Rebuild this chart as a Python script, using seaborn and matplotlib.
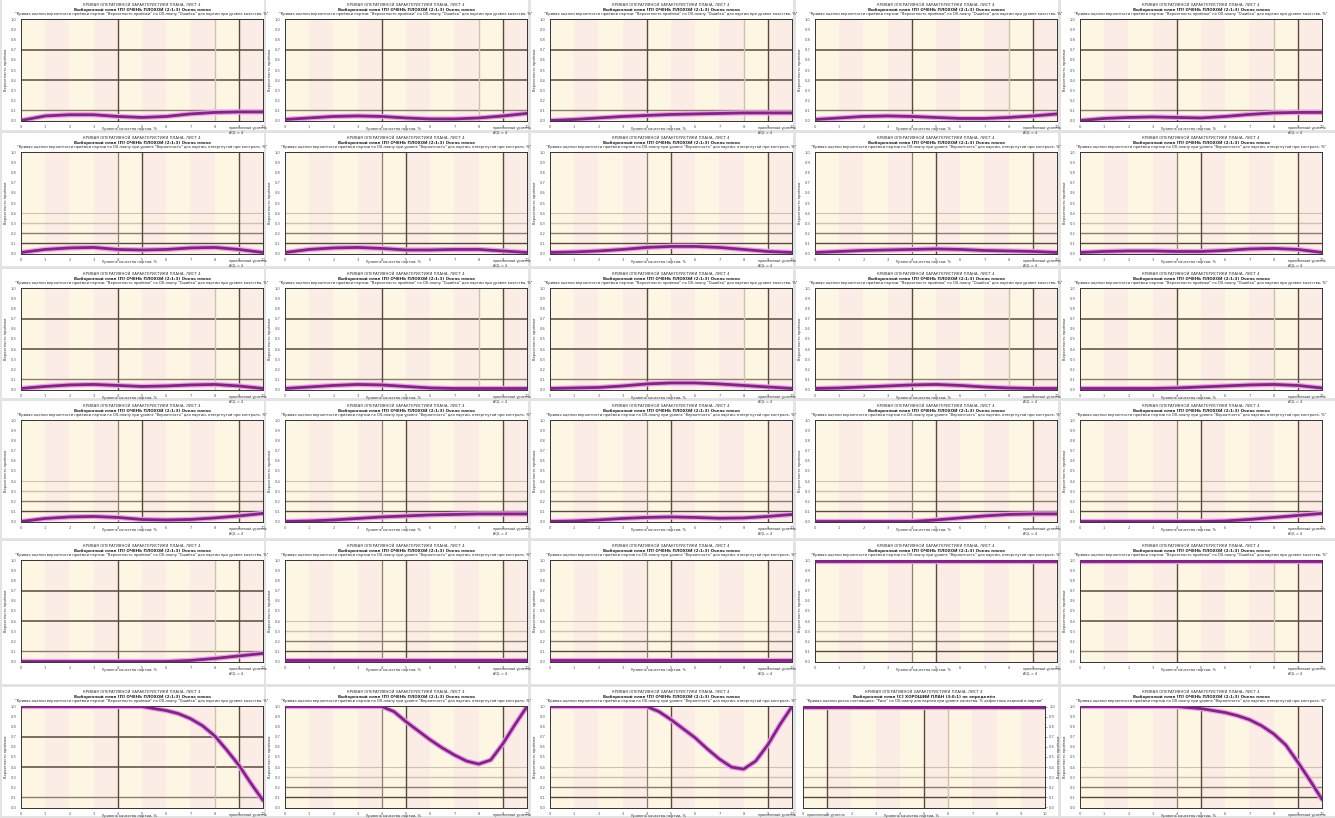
import numpy as np
import pandas as pd
import seaborn as sns
import matplotlib.pyplot as plt
from matplotlib.patches import Rectangle

sns.set_theme(style="white")
plt.rcParams['font.family'] = ['DejaVu Sans']

# x positions (fraction defective scale, 0..10)
x_int = list(range(11))
x_half = [i / 2 for i in range(21)]

# row 1 (type A panels)
r1c1 = [0.0, 0.045, 0.057, 0.057, 0.04, 0.03, 0.04, 0.065, 0.08, 0.085, 0.085]
r1c2 = [0.01, 0.025, 0.04, 0.045, 0.04, 0.025, 0.015, 0.015, 0.025, 0.045, 0.07]
r1c3 = [0.0, 0.01, 0.025, 0.04, 0.05, 0.06, 0.065, 0.07, 0.075, 0.075, 0.075]
r1c4 = [0.01, 0.025, 0.04, 0.045, 0.04, 0.03, 0.02, 0.02, 0.03, 0.045, 0.065]
r1c5 = [0.0, 0.02, 0.03, 0.035, 0.03, 0.025, 0.04, 0.06, 0.075, 0.08, 0.08]
# row 2 (type B)
r2c1 = [0.01, 0.04, 0.055, 0.06, 0.04, 0.035, 0.04, 0.055, 0.06, 0.04, 0.01]
r2c2 = [0.01, 0.04, 0.055, 0.06, 0.05, 0.035, 0.035, 0.04, 0.04, 0.025, 0.01]
r2c3 = [0.01, 0.015, 0.025, 0.04, 0.06, 0.07, 0.07, 0.06, 0.04, 0.02, 0.01]
r2c4 = [0.01, 0.02, 0.03, 0.035, 0.04, 0.045, 0.04, 0.03, 0.025, 0.02, 0.01]
r2c5 = [0.01, 0.02, 0.025, 0.025, 0.02, 0.02, 0.03, 0.045, 0.05, 0.04, 0.01]
# row 3 (type A)
r3c1 = [0.01, 0.03, 0.045, 0.05, 0.04, 0.03, 0.035, 0.045, 0.05, 0.035, 0.01]
r3c2 = [0.01, 0.025, 0.04, 0.05, 0.045, 0.03, 0.015, 0.01, 0.01, 0.01, 0.01]
r3c3 = [0.01, 0.015, 0.02, 0.035, 0.055, 0.065, 0.065, 0.055, 0.04, 0.025, 0.01]
r3c4 = [0.01, 0.015, 0.025, 0.035, 0.045, 0.05, 0.04, 0.025, 0.015, 0.01, 0.01]
r3c5 = [0.01, 0.01, 0.01, 0.01, 0.015, 0.025, 0.035, 0.045, 0.05, 0.04, 0.015]
# row 4 (type B)
r4c1 = [0.0, 0.03, 0.045, 0.05, 0.04, 0.02, 0.015, 0.02, 0.035, 0.055, 0.08]
r4c2 = [0.0, 0.005, 0.015, 0.03, 0.045, 0.055, 0.065, 0.07, 0.075, 0.075, 0.075]
r4c3 = [0.0, 0.005, 0.015, 0.03, 0.04, 0.045, 0.04, 0.032, 0.035, 0.05, 0.07]
r4c4 = [0.0, 0.0, 0.0, 0.0, 0.0, 0.015, 0.035, 0.055, 0.07, 0.075, 0.075]
r4c5 = [0.0, 0.0, 0.0, 0.0, 0.0, 0.0, 0.005, 0.02, 0.04, 0.06, 0.08]
# row 5
r5c1 = [0.0, 0.0, 0.0, 0.0, 0.0, 0.0, 0.0, 0.01, 0.03, 0.055, 0.08]
r5c2 = [0.01] * 11
r5c3 = [0.01] * 11
r5c4 = [1.0] * 11
r5c5 = [1.0] * 11
# row 6 (half-step readings)
r6c1 = [1.0, 1.0, 1.0, 1.0, 1.0, 1.0, 1.0, 1.0, 1.0, 1.0, 1.0,
        0.98, 0.96, 0.93, 0.88, 0.81, 0.71, 0.57, 0.42, 0.24, 0.07]
r6c2 = [1.0, 1.0, 1.0, 1.0, 1.0, 1.0, 1.0, 1.0, 1.0, 0.95, 0.85,
        0.76, 0.67, 0.59, 0.52, 0.46, 0.43, 0.47, 0.63, 0.82, 1.0]
r6c3 = [1.0, 1.0, 1.0, 1.0, 1.0, 1.0, 1.0, 1.0, 1.0, 0.95, 0.87,
        0.78, 0.69, 0.58, 0.48, 0.4, 0.38, 0.46, 0.62, 0.82, 1.0]
r6c4 = [1.0] * 21
r6c5 = [1.0, 1.0, 1.0, 1.0, 1.0, 1.0, 1.0, 1.0, 1.0, 0.99, 0.98,
        0.96, 0.94, 0.91, 0.87, 0.81, 0.73, 0.62, 0.45, 0.27, 0.08]

curves = [
    [r1c1, r1c2, r1c3, r1c4, r1c5],
    [r2c1, r2c2, r2c3, r2c4, r2c5],
    [r3c1, r3c2, r3c3, r3c4, r3c5],
    [r4c1, r4c2, r4c3, r4c4, r4c5],
    [r5c1, r5c2, r5c3, r5c4, r5c5],
    [r6c1, r6c2, r6c3, r6c4, r6c5],
]
panel_types = [
    "AAAAA",
    "BBBBB",
    "AAAAA",
    "BBBBB",
    "ABBBA",
    "ABBSB",
]

y_ticks = [i / 10 for i in range(11)]
y_labels = ["0,0", "0,1", "0,2", "0,3", "0,4", "0,5", "0,6", "0,7", "0,8", "0,9", "1,0"]
x_labels = [str(i) for i in x_int]

title1 = "КРИВАЯ ОПЕРАТИВНОЙ ХАРАКТЕРИСТИКИ ПЛАНА, ЛИСТ 4"
title2 = {
    "A": "Выборочный план [П] ОЧЕНЬ ПЛОХОЙ (2:1:3) Очень плохо",
    "B": "Выборочный план [П] ОЧЕНЬ ПЛОХОЙ (2:1:3) Очень плохо",
    "S": "Выборочный план [С] ХОРОШИЙ ПЛАН (3:0:1) не определён",
}
title3 = {
    "A": "\"Кривая оценки вероятности приёмки партии: \"Вероятность приёмки\" по ОХ-плану \"Ошибка\" для партии при уровне качества, %\"",
    "B": "\"Кривая оценки вероятности приёмки партии по ОХ-плану при уровне \"Вероятность\" для партии, отвергнутой при контроле, %\"",
    "S": "\"Кривая оценки риска поставщика: \"Риск\" по ОХ-плану для партии при уровне качества, % дефектных изделий в партии\"",
}
ylab = "Вероятность приёмки"
xlab = "Уровень качества партии, %"
note = "приемлемый уровень\nAQL = 4"

W, H = 1335, 818
plot_left = [21, 285, 550, 815, 1080]
plot_top = [19, 152, 288, 420, 560, 706]
plot_w = 242
plot_h = 102

cream = "#fdf6e2"
pink = "#fbede5"
dark = "#5a4a3c"
mid = "#8c7d6c"
light = "#cfc2ac"
purple = "#8a1f8c"
halo = "#e2a8e2"

fig = plt.figure(figsize=(W / 100, H / 100), dpi=100)
fig.patch.set_facecolor("#e3e3e3")

for r in range(6):
    for c in range(5):
        kind = panel_types[r][c]
        card_l = plot_left[c] - 19
        card_r = plot_left[c] + 243 if c < 4 else W
        left = plot_left[c] - 12 if kind == "S" else plot_left[c]
        top = plot_top[r]
        # white card behind each panel
        card_top = top - 19
        card_bot = plot_top[r + 1] - 22 if r < 5 else H - 2
        fig.patches.append(Rectangle((card_l / W, 1 - card_bot / H),
                                     (card_r - card_l) / W, (card_bot - card_top) / H,
                                     transform=fig.transFigure, facecolor="white",
                                     edgecolor="none", zorder=-10))
        ax = fig.add_axes([left / W, 1 - (top + plot_h) / H, plot_w / W, plot_h / H])
        ax.set_zorder(1)
        ax.set_facecolor(cream)
        for i in range(10):
            ax.axvspan(i, i + 1, color=cream if i % 2 == 0 else pink, lw=0, zorder=0)

        if kind == "A":
            hl = [(0.1, mid, 1.0), (0.4, dark, 1.1), (0.7, dark, 1.1)]
            vl = [(4, dark, 1.0), (8, light, 1.0), (9, dark, 1.0)]
        elif kind == "B":
            hl = [(0.1, dark, 1.0), (0.2, mid, 1.0), (0.3, light, 1.0), (0.4, light, 0.8)]
            vl = [(4, mid, 0.9), (5, dark, 1.0), (9, dark, 1.0)]
        else:
            hl = [(0.1, dark, 1.0), (0.2, mid, 1.0), (0.3, light, 1.0), (0.4, light, 0.8)]
            vl = [(1, dark, 1.0), (5, dark, 1.0), (6, light, 1.0)]
        for yv, col, lw in hl:
            ax.axhline(yv, color=col, lw=lw, zorder=1)
        for xv, col, lw in vl:
            ax.axvline(xv, color=col, lw=lw, zorder=1)

        yvals = curves[r][c]
        xs = x_int if len(yvals) == 11 else x_half
        df = pd.DataFrame({"x": xs, "y": yvals})
        sns.lineplot(data=df, x="x", y="y", ax=ax, color=halo, lw=3.8, zorder=2)
        sns.lineplot(data=df, x="x", y="y", ax=ax, color=purple, lw=2.0, zorder=3)

        ax.set_xlim(0, 10)
        ax.set_ylim(-0.005, 1.005)
        ax.set_xticks(x_int)
        ax.set_xticklabels(x_labels)
        ax.set_yticks(y_ticks)
        ax.set_yticklabels(y_labels)
        ax.tick_params(labelsize=2.6, length=1.5, width=0.4, pad=1.5, colors="#555555")
        if kind == "S":
            ax.yaxis.tick_right()
        ax.set_xlabel("")
        ax.set_ylabel("")
        for s in ax.spines.values():
            s.set_linewidth(0.7)
            s.set_color("#333333")

        cx = (left + plot_w / 2) / W
        fig.text(cx, 1 - (top - 14) / H, title1, ha="center", va="center", fontsize=2.8, color="#333333")
        fig.text(cx, 1 - (top - 9.5) / H, title2[kind], ha="center", va="center", fontsize=2.9,
                 weight="bold", color="#222222")
        fig.text(cx, 1 - (top - 5) / H, title3[kind], ha="center", va="center", fontsize=2.6, color="#222222")
        if kind == "S":
            fig.text((left + plot_w + 14) / W, 1 - (top + plot_h / 2) / H, ylab, rotation=90,
                     ha="center", va="center", fontsize=2.6, color="#333333")
            fig.text((left + 4) / W, 1 - (top + plot_h + 9) / H, note, ha="left", va="center",
                     fontsize=2.4, color="#333333")
        else:
            fig.text((left - 15) / W, 1 - (top + plot_h / 2) / H, ylab, rotation=90,
                     ha="center", va="center", fontsize=2.6, color="#333333")
            fig.text((left + plot_w * 0.86) / W, 1 - (top + plot_h + 9) / H, note, ha="left",
                     va="center", fontsize=2.4, color="#333333")
        fig.text((left + plot_w * 0.45) / W, 1 - (top + plot_h + 8) / H, xlab, ha="center",
                 va="center", fontsize=2.6, color="#333333")

fig.savefig("out.png", dpi=100, facecolor=fig.get_facecolor())
